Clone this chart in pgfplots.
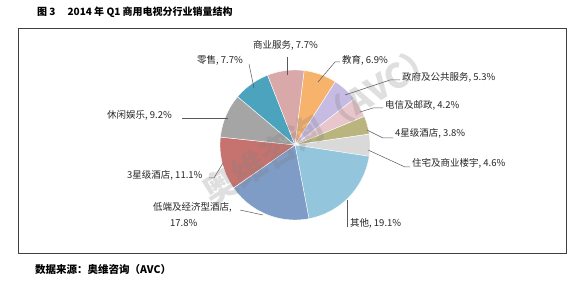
\documentclass[border=0pt]{standalone}
\usepackage{pgfplots}
\pgfplotsset{compat=1.18}
\usepgfplotslibrary{polar}
\usepackage{fontspec}
\setmainfont{Noto Sans CJK SC}
\definecolor{cEdu}{RGB}{247,178,108}
\definecolor{cGov}{RGB}{198,187,227}
\definecolor{cTel}{RGB}{232,198,204}
\definecolor{cFour}{RGB}{186,181,127}
\definecolor{cRes}{RGB}{217,217,217}
\definecolor{cOth}{RGB}{147,198,221}
\definecolor{cLow}{RGB}{126,156,198}
\definecolor{cThree}{RGB}{198,115,111}
\definecolor{cLeis}{RGB}{165,165,165}
\definecolor{cRet}{RGB}{75,163,190}
\definecolor{cBiz}{RGB}{216,169,168}
\definecolor{lead}{RGB}{89,89,89}
\newcommand\cum{0}
\newcommand\total{97.4}
\newcommand\slice[2]{%
  \pgfmathsetmacro\sa{90-7-(\cum/\total)*360}%
  \pgfmathsetmacro\sb{90-7-((\cum+#1)/\total)*360}%
  \edef\doslice{\noexpand\addplot[fill=#2, draw=white, line width=0.4pt, domain=\sb:\sa, samples=40] {1} -- (axis cs:0,0) -- cycle;}%
  \doslice
  \pgfmathsetmacro\newcum{\cum+#1}%
  \xdef\cum{\newcum}%
}
\begin{document}
\begin{tikzpicture}[x=1pt,y=1pt]
\useasboundingbox (0,0) rectangle (582,286);
\fill[white] (0,0) rectangle (582,286);
\draw[black!75, line width=0.8pt] (18,33) rectangle (566,258);
\begin{polaraxis}[
  at={(295pt,141pt)}, anchor=center,
  scale only axis, width=150pt, height=150pt,
  hide axis, ymin=0, ymax=1, xmin=0, xmax=360,
  clip=false
]
\slice{6.9}{cEdu}
\slice{5.3}{cGov}
\slice{4.2}{cTel}
\slice{3.8}{cFour}
\slice{4.6}{cRes}
\slice{19.1}{cOth}
\slice{17.8}{cLow}
\slice{11.1}{cThree}
\slice{9.2}{cLeis}
\slice{7.7}{cRet}
\slice{7.7}{cBiz}
\end{polaraxis}
\begin{scope}[lead, line width=0.5pt]
\draw (287,229) -- (287,211);
\draw (340,224) -- (335,224) -- (318,204);
\draw (249,222) -- (254,198);
\draw (182,168) -- (228,168);
\draw (209,108) -- (214,108) -- (223,123);
\draw (240,76) -- (263,71);
\draw (347,86) -- (347,59);
\draw (400,206) -- (390,206) -- (345,191);
\draw (383,178) -- (373,178) -- (360,174);
\draw (393,148) -- (383,148) -- (367,156);
\draw (410,119) -- (405,119) -- (368,136);
\end{scope}
\begin{scope}[every node/.style={anchor=west, inner sep=0pt, text=black!85, font=\fontsize{9.5}{11}\selectfont}]
\node at (253,241) {商业服务, 7.7\%};
\node at (342,226) {教育, 6.9\%};
\node at (197,226) {零售, 7.7\%};
\node at (107,171) {休闲娱乐, 9.2\%};
\node at (127,111) {3星级酒店, 11.1\%};
\node at (153,79) {低端及经济型酒店,};
\node at (170,63) {17.8\%};
\node at (350,63) {其他, 19.1\%};
\node at (402,209) {政府及公共服务, 5.3\%};
\node at (385,181) {电信及邮政, 4.2\%};
\node at (395,153) {4星级酒店, 3.8\%};
\node at (412,123) {住宅及商业楼宇, 4.6\%};
\end{scope}
\node[rotate=32, text=gray, opacity=0.25, font=\fontsize{34}{36}\selectfont\bfseries] at (320,162) {奥维咨询（AVC）};
\node[anchor=west, inner sep=0pt, font=\fontsize{10}{12}\selectfont\bfseries] at (37,274) {图 3\hspace{1.2em}2014 年 Q1 商用电视分行业销量结构};
\node[anchor=west, inner sep=0pt, font=\fontsize{10.5}{12}\selectfont\bfseries] at (35,16) {数据来源：奥维咨询（AVC）};
\end{tikzpicture}
\end{document}
